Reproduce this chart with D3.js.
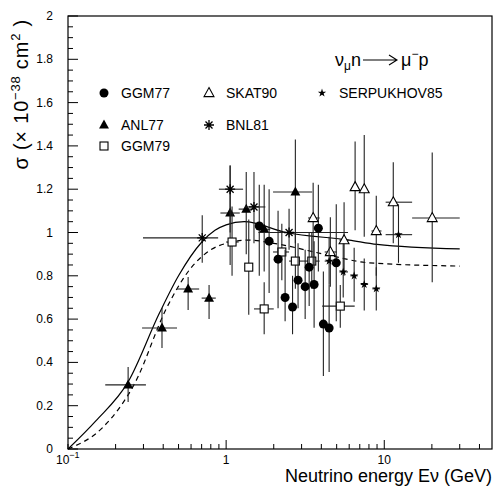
<!DOCTYPE html>
<html>
<head>
<meta charset="utf-8">
<script src="https://cdn.jsdelivr.net/npm/d3@7"></script>
<style>
  body { margin: 0; background: #fff; }
  svg text { font-family: "Liberation Sans", Arial, sans-serif; fill: #000; }
</style>
</head>
<body>
<div id="chart"></div>
<script>
// values: [E, sigma, Elo, Ehi, sigmaLo, sigmaHi]  (null = no bar)
const ggm77 = [
  [1.62, 1.03, null, null, 0.80, 1.22],
  [1.87, 0.96, null, null, 0.72, 1.20],
  [2.13, 0.877, null, null, 0.65, 1.10],
  [2.36, 0.70, null, null, 0.59, 0.92],
  [2.63, 0.656, null, null, 0.53, 0.80],
  [2.85, 0.78, null, null, 0.65, 0.95],
  [3.16, 0.75, null, null, 0.60, 0.92],
  [3.35, 0.84, null, null, 0.66, 1.00],
  [3.6, 0.76, null, null, 0.56, 0.96],
  [3.83, 1.02, null, null, 0.82, 1.22],
  [4.12, 0.577, null, null, 0.337, 0.82],
  [4.48, 0.559, null, null, 0.356, 0.76],
  [4.97, 0.86, null, null, 0.59, 1.13]
];
const anl77 = [
  [0.24, 0.296, 0.172, 0.311, 0.217, 0.379],
  [0.393, 0.559, 0.294, 0.489, 0.467, 0.651],
  [0.575, 0.739, 0.489, 0.675, 0.642, 0.794],
  [0.78, 0.697, 0.70, 0.86, 0.60, 0.757],
  [1.06, 1.09, 0.92, 1.22, 0.85, 1.31],
  [1.34, 1.108, 1.2, 1.5, 0.90, 1.28],
  [1.74, 1.015, 1.6, 1.9, 0.82, 1.22],
  [2.74, 1.187, 1.98, 3.5, 0.95, 1.43]
];
const ggm79 = [
  [1.09, 0.956, 1.0, 1.2, 0.80, 1.12],
  [1.39, 0.84, null, null, 0.62, 1.06],
  [1.74, 0.647, 1.5, 2.0, 0.53, 0.77],
  [2.25, 0.91, 1.98, 2.5, 0.78, 1.04],
  [2.74, 0.868, 2.5, 3.1, 0.74, 1.0],
  [3.48, 0.868, 3.1, 3.9, 0.74, 1.0],
  [5.27, 0.66, 4.05, 6.5, 0.56, 0.757]
];
const skat90 = [
  [3.55, 1.067, 3.3, 3.9, 0.85, 1.23],
  [4.56, 0.91, 4.2, 5.0, 0.75, 1.07],
  [5.57, 0.965, 5.2, 6.0, 0.80, 1.14],
  [6.54, 1.21, null, null, 1.01, 1.42],
  [7.47, 1.2, null, null, 0.98, 1.45],
  [8.9, 1.007, 8.3, 9.6, 0.80, 1.17],
  [11.4, 1.14, 10.2, 15, 0.95, 1.325],
  [20.1, 1.067, 15, 30, 0.77, 1.37]
];
const bnl81 = [
  [0.706, 0.975, 0.298, 0.89, 0.86, 1.08],
  [1.06, 1.2, 0.9, 1.28, 1.0, 1.31],
  [1.5, 1.118, 1.32, 1.77, 0.95, 1.28],
  [2.5, 1.0, 1.6, 5.9, 0.92, 1.11]
];
const serpukhov85 = [
  [4.48, 0.868, 4.2, 4.8, 0.76, 0.98],
  [5.5, 0.818, 5.2, 5.9, 0.70, 0.95],
  [6.45, 0.80, 6.1, 6.8, 0.68, 0.93],
  [7.47, 0.76, 7.1, 7.9, 0.64, 0.88],
  [8.9, 0.74, 8.4, 9.4, 0.64, 0.84],
  [12.3, 0.99, 10.2, 15, 0.86, 1.13]
];
// theory curves [E, sigma]
const solidCurve = [[0.1, 0], [0.15, 0.13], [0.24, 0.31], [0.38, 0.63], [0.5, 0.80], [0.7, 0.955],
  [0.85, 1.01], [1.0, 1.035], [1.3, 1.05], [2.4, 1.0], [6, 0.965], [9, 0.945], [30, 0.924]];
const dashedCurve = [[0.1, 0], [0.166, 0.1], [0.265, 0.305], [0.42, 0.651], [0.59, 0.83],
  [0.8, 0.92], [1.0, 0.95], [1.4, 0.965], [2.0, 0.95], [4.4, 0.896], [8, 0.86], [30, 0.845]];
const yTicks = [0, 0.2, 0.4, 0.6, 0.8, 1, 1.2, 1.4, 1.6, 1.8, 2];

const width = 494, height = 487;
const x = d3.scaleLog().domain([0.1, 48]).range([68, 492]);
const y = d3.scaleLinear().domain([0, 2]).range([449, 16]);

const svg = d3.select("#chart").append("svg")
  .attr("width", width).attr("height", height);

// frame
svg.append("rect")
  .attr("x", 68).attr("y", 16).attr("width", 492 - 68).attr("height", 449 - 16)
  .attr("fill", "none").attr("stroke", "#000").attr("stroke-width", 1.2);

// y ticks (inward)
const yMinor = d3.range(0, 2.001, 0.05);
svg.append("g").selectAll("line").data(yMinor).join("line")
  .attr("x1", 68).attr("x2", (d, i) => i % 4 === 0 ? 78 : 73)
  .attr("y1", d => y(d)).attr("y2", d => y(d))
  .attr("stroke", "#000");
svg.append("g").selectAll("text").data(yTicks).join("text")
  .attr("x", 53).attr("y", d => y(d) + 4)
  .attr("text-anchor", "end").style("font-size", "12px")
  .text(d => d);

// x ticks (inward)
const xMinor = [];
[0.1, 1, 10].forEach(dec => d3.range(1, 10).forEach(k => { if (dec * k <= 48) xMinor.push(dec * k); }));
svg.append("g").selectAll("line").data(xMinor).join("line")
  .attr("x1", d => x(d)).attr("x2", d => x(d))
  .attr("y1", 449).attr("y2", d => (d === 1 || d === 10) ? 440 : 444)
  .attr("stroke", "#000");

const xl = svg.append("g").style("font-size", "12px");
const t0 = xl.append("text").attr("x", x(0.1) - 12).attr("y", 464);
t0.append("tspan").text("10");
t0.append("tspan").attr("dy", -6).style("font-size", "9px").text("−1");
xl.append("text").attr("x", x(1)).attr("y", 464).attr("text-anchor", "middle").text("1");
xl.append("text").attr("x", x(10)).attr("y", 464).attr("text-anchor", "middle").text("10");

// axis titles
svg.append("text").attr("x", 492).attr("y", 482).attr("text-anchor", "end")
  .style("font-size", "18px").text("Neutrino energy Eν (GeV)");

const yt = svg.append("text")
  .attr("transform", "translate(28,19) rotate(-90)")
  .attr("text-anchor", "end").style("font-size", "20px").style("letter-spacing", "0.8px");
yt.append("tspan").text("σ (× 10");
yt.append("tspan").attr("dy", -8).style("font-size", "13px").text("−38");
yt.append("tspan").attr("dy", 8).text("  cm");
yt.append("tspan").attr("dy", -8).style("font-size", "13px").text("2");
yt.append("tspan").attr("dy", 8).text(" )");

// curves
const line = d3.line()
  .x(d => x(d[0])).y(d => y(d[1]))
  .curve(d3.curveMonotoneX);
svg.append("path").datum(solidCurve).attr("d", line)
  .attr("fill", "none").attr("stroke", "#000").attr("stroke-width", 1.2);
svg.append("path").datum(dashedCurve).attr("d", line)
  .attr("fill", "none").attr("stroke", "#000").attr("stroke-width", 1.2)
  .attr("stroke-dasharray", "5,4");

// markers
const triUp = s => `M0,${-s * 0.6}L${s * 0.55},${s * 0.4}L${-s * 0.55},${s * 0.4}Z`;
const drawMarker = (g, kind) => {
  if (kind === "circle") g.append("circle").attr("r", 4.5).attr("fill", "#000");
  if (kind === "tri") g.append("path").attr("d", triUp(9)).attr("fill", "#000");
  if (kind === "otri") g.append("path").attr("d", triUp(9)).attr("fill", "#fff").attr("stroke", "#000").attr("stroke-width", 1.1);
  if (kind === "square") g.append("rect").attr("x", -4).attr("y", -4).attr("width", 8).attr("height", 8)
    .attr("fill", "#fff").attr("stroke", "#000").attr("stroke-width", 1.1);
  if (kind === "aster") {
    g.append("path").attr("d", "M-5,0L5,0M-3.5,-3.5L3.5,3.5M-3.5,3.5L3.5,-3.5M0,-5L0,5")
      .attr("stroke", "#000").attr("stroke-width", 1.3).attr("fill", "none");
  }
  if (kind === "star") g.append("path").attr("d", d3.symbol(d3.symbolStar, 22)()).attr("fill", "#000");
};

const series = [
  { data: anl77, kind: "tri" },
  { data: bnl81, kind: "aster" },
  { data: ggm79, kind: "square" },
  { data: ggm77, kind: "circle" },
  { data: skat90, kind: "otri" },
  { data: serpukhov85, kind: "star" }
];

series.forEach(s => {
  const g = svg.append("g");
  // error bars
  g.selectAll(".ey").data(s.data.filter(d => d[4] !== null)).join("line")
    .attr("x1", d => x(d[0])).attr("x2", d => x(d[0]))
    .attr("y1", d => y(d[4])).attr("y2", d => y(d[5]))
    .attr("stroke", "#222").attr("stroke-width", 1.1);
  g.selectAll(".ex").data(s.data.filter(d => d[2] !== null)).join("line")
    .attr("x1", d => x(d[2])).attr("x2", d => x(d[3]))
    .attr("y1", d => y(d[1])).attr("y2", d => y(d[1]))
    .attr("stroke", "#222").attr("stroke-width", 1.1);
  g.selectAll(".m").data(s.data).join("g")
    .attr("transform", d => `translate(${x(d[0])},${y(d[1])})`)
    .each(function() { drawMarker(d3.select(this), s.kind); });
});

// legend
const legend = [
  { label: "GGM77", kind: "circle", lx: 104, ly: 93 },
  { label: "SKAT90", kind: "otri", lx: 209, ly: 93 },
  { label: "SERPUKHOV85", kind: "star", lx: 322, ly: 93 },
  { label: "ANL77", kind: "tri", lx: 104, ly: 125 },
  { label: "BNL81", kind: "aster", lx: 209, ly: 125 },
  { label: "GGM79", kind: "square", lx: 104, ly: 146 }
];
legend.forEach(l => {
  const g = svg.append("g").attr("transform", `translate(${l.lx},${l.ly})`);
  drawMarker(g, l.kind);
  g.append("text").attr("x", 17).attr("y", 5).style("font-size", "14px").text(l.label);
});

// reaction label
const r = svg.append("g").style("font-size", "18px");
const r1 = r.append("text").attr("x", 335).attr("y", 66);
r1.append("tspan").text("ν");
r1.append("tspan").attr("dy", 4).style("font-size", "12px").text("μ");
r1.append("tspan").attr("dy", -4).text("n");
r.append("path").attr("d", "M363,60L396,60M389,55L397,60L389,65")
  .attr("fill", "none").attr("stroke", "#000").attr("stroke-width", 1.1);
const r2 = r.append("text").attr("x", 401).attr("y", 66);
r2.append("tspan").text("μ");
r2.append("tspan").attr("dy", -8).style("font-size", "12px").text("−");
r2.append("tspan").attr("dy", 8).text("p");
</script>
</body>
</html>
